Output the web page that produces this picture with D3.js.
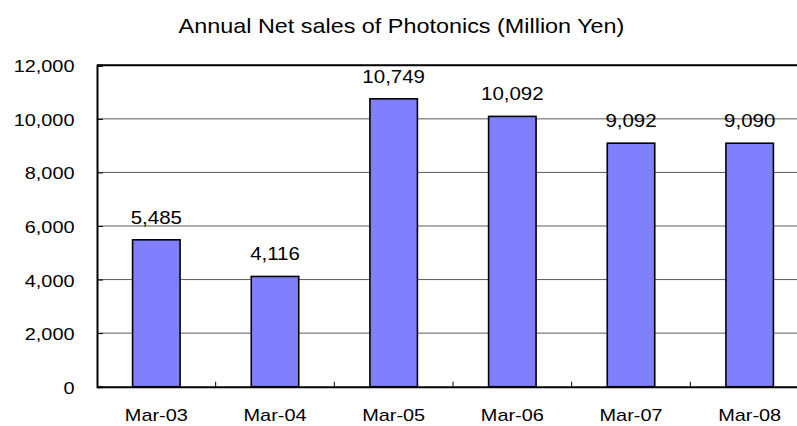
<!DOCTYPE html>
<html><head><meta charset="utf-8">
<script src="https://cdn.jsdelivr.net/npm/d3@7"></script>
<style>body{margin:0;background:#fff}svg{display:block}text{font-family:"Liberation Sans",Arial,sans-serif;fill:#000}</style>
</head><body>
<script>
const categories = ["Mar-03","Mar-04","Mar-05","Mar-06","Mar-07","Mar-08"];
const netSales = [5485,4116,10749,10092,9092,9090];
const yTicks = [0,2000,4000,6000,8000,10000,12000];
const title = "Annual Net sales of Photonics (Million Yen)";

const W = 797, H = 426, SX = 1.17;
const pLeft = 97, pTop = 65.3, pBottom = 386.7, pRight = 809;
const svg = d3.select("body").append("svg").attr("width", W).attr("height", H);

const x = d3.scaleBand().domain(categories).range([pLeft, pRight]).paddingInner(0.6).paddingOuter(0.3);
const xb = d3.scaleBand().domain(categories).range([pLeft, pRight]);
const y = d3.scaleLinear().domain([0, 12000]).range([pBottom, pTop]);
const fmt = d3.format(",");

function txt(g, s, px, py, size, anchor) {
  return g.append("text").text(s).attr("font-size", size).attr("text-anchor", anchor)
    .attr("transform", `translate(${px},${py}) scale(${SX},1)`);
}

// gridlines
svg.append("g").selectAll("line").data(yTicks.filter(d => d > 0)).join("line")
  .attr("x1", pLeft).attr("x2", pRight).attr("y1", d => y(d)).attr("y2", d => y(d))
  .attr("stroke", "#5a5a5a").attr("stroke-width", 1);

// top border
svg.append("line").attr("x1", pLeft).attr("x2", pRight).attr("y1", pTop).attr("y2", pTop)
  .attr("stroke", "#000").attr("stroke-width", 2);

// bars
svg.append("g").selectAll("rect").data(netSales).join("rect")
  .attr("x", (d, i) => x(categories[i])).attr("width", x.bandwidth())
  .attr("y", d => y(d)).attr("height", d => y(0) - y(d))
  .attr("fill", "#8080FF").attr("stroke", "#000").attr("stroke-width", 1.6);

// y axis
const yAxis = d3.axisLeft(y).tickValues(yTicks).tickSize(-6).tickFormat("");
const ya = svg.append("g").attr("transform", `translate(${pLeft},0)`).call(yAxis);
ya.select(".domain").attr("stroke", "#000").attr("stroke-width", 2);
ya.selectAll(".tick line").attr("stroke", "#000");
yTicks.forEach(t => txt(svg, fmt(t), 74.5, y(t) + 7, 17, "end"));

// x axis
const xAxis = d3.axisBottom(xb).tickSize(0).tickFormat("");
const xa = svg.append("g").attr("transform", `translate(0,${pBottom})`).call(xAxis);
xa.select(".domain").attr("stroke", "#000").attr("stroke-width", 2);
xa.selectAll(".tick").remove();
svg.append("g").selectAll("line").data(categories.slice(1)).join("line")
  .attr("x1", d => xb(d)).attr("x2", d => xb(d)).attr("y1", pBottom).attr("y2", pBottom - 5)
  .attr("stroke", "#000").attr("stroke-width", 1);
categories.forEach(c => txt(svg, c, xb(c) + xb.bandwidth() / 2, 421, 17, "middle"));

// data labels
netSales.forEach((v, i) => txt(svg, fmt(v), x(categories[i]) + x.bandwidth() / 2, y(v) - 16, 17.5, "middle"));

// title
txt(svg, title, 401.5, 33.3, 20, "middle");
</script>
</body></html>
